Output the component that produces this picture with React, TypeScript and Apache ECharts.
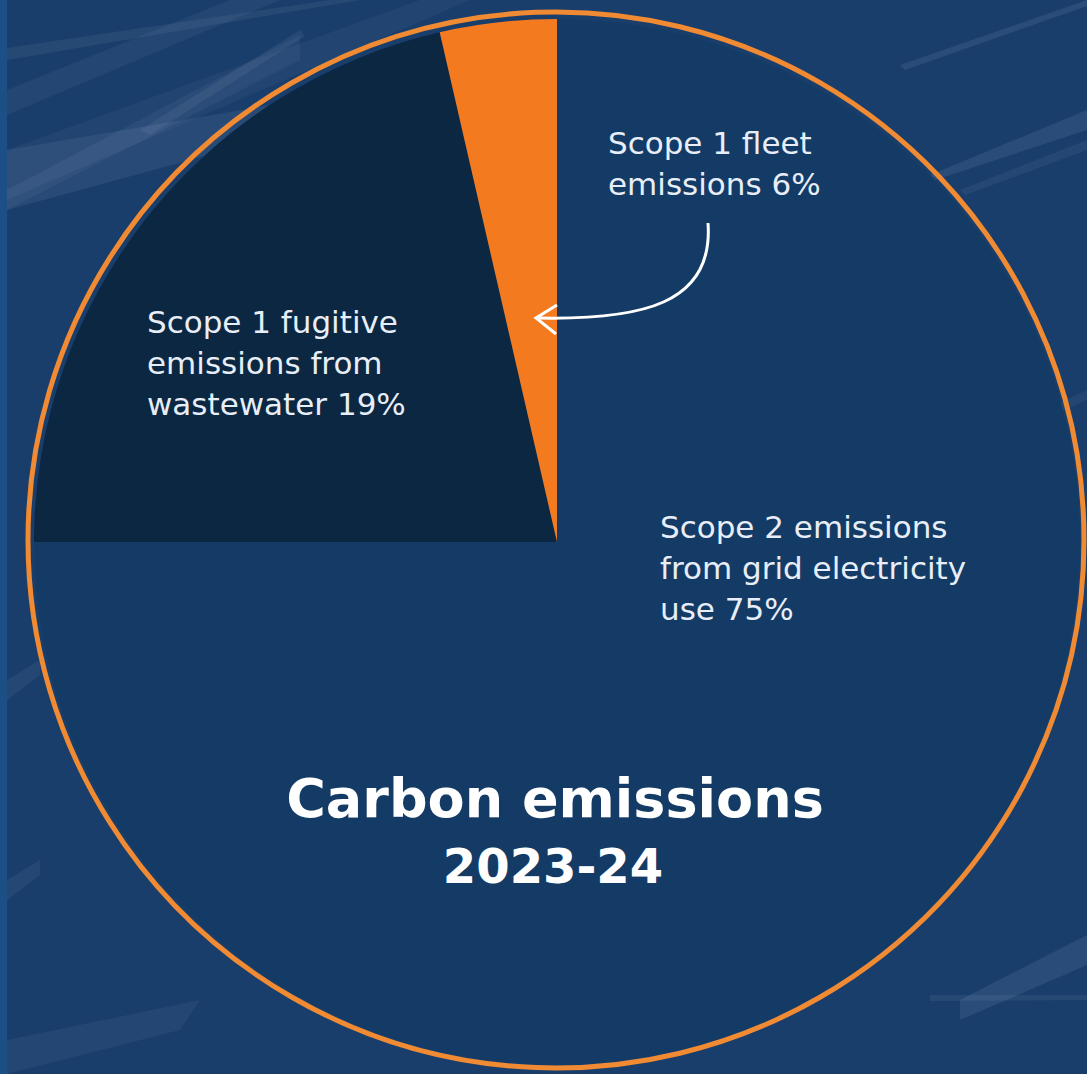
import React, { useEffect, useRef } from "react";
import * as echarts from "echarts";

const categories = [
  "Scope 2 emissions from grid electricity use",
  "Scope 1 fugitive emissions from wastewater",
  "Scope 1 fleet emissions",
];
const sectorShares = [75, 21.4, 3.6];
const sliceColors = ["#143b66", "#0b2741", "#f47a20"];

// Label texts as printed on the chart
const labelTexts = [
  "Scope 2 emissions\nfrom grid electricity\nuse 75%",
  "Scope 1 fugitive\nemissions from\nwastewater 19%",
  "Scope 1 fleet\nemissions 6%",
];
const titleText = "Carbon emissions";
const subtitleText = "2023-24";

const streak = (points: number[][], opacity: number) => ({
  type: "polygon",
  silent: true,
  z: -9,
  shape: { points },
  style: { fill: `rgba(190,205,235,${opacity})` },
});

export default function App() {
  const ref = useRef<HTMLDivElement>(null);
  useEffect(() => {
    document.body.style.margin = "0";
    const chart = echarts.init(ref.current!, undefined, { renderer: "svg" });
    const labelStyle = {
      fill: "#e8eef7",
      fontFamily: "DejaVu Sans",
      fontSize: 31,
      lineHeight: 41,
    };
    chart.setOption({
      animation: false,
      backgroundColor: "#1a3e6b",
      graphic: [
        {
          type: "rect",
          silent: true,
          z: -10,
          shape: { x: 0, y: 0, width: 7, height: 1074 },
          style: { fill: "#1d4f87" },
        },
        // background streaks (decoration)
        streak([[7, 60], [7, 48], [330, 0], [360, 0]], 0.08),
        streak([[7, 115], [7, 90], [230, 0], [280, 0]], 0.06),
        streak([[7, 200], [7, 150], [420, 0], [470, 0]], 0.05),
        streak([[7, 210], [7, 190], [300, 35], [300, 60]], 0.06),
        streak([[7, 210], [7, 150], [300, 100], [300, 130]], 0.09),
        streak([[140, 130], [300, 30], [305, 36], [150, 135]], 0.08),
        streak([[900, 65], [1087, 0], [1087, 6], [905, 70]], 0.1),
        streak([[930, 175], [1087, 110], [1087, 130], [935, 180]], 0.1),
        streak([[960, 190], [1087, 140], [1087, 150], [965, 195]], 0.07),
        streak([[980, 440], [1087, 390], [1087, 400], [985, 445]], 0.06),
        streak([[960, 1000], [1087, 935], [1087, 965], [960, 1020]], 0.1),
        streak([[930, 995], [1087, 995], [1087, 1000], [930, 1001]], 0.08),
        streak([[7, 1074], [7, 1040], [200, 1000], [180, 1030]], 0.06),
        streak([[7, 700], [7, 680], [40, 660], [40, 675]], 0.07),
        streak([[7, 900], [7, 880], [40, 860], [40, 875]], 0.07),
        // outline ring
        {
          type: "circle",
          silent: true,
          z: 10,
          shape: { cx: 556, cy: 540, r: 528 },
          style: { fill: "none", stroke: "#f08a33", lineWidth: 5 },
        },
        // curved arrow
        {
          type: "bezierCurve",
          silent: true,
          z: 20,
          shape: { x1: 708, y1: 223, cpx1: 714, cpy1: 305, cpx2: 640, cpy2: 320, x2: 538, y2: 318 },
          style: { stroke: "#ffffff", lineWidth: 3, fill: "none" },
        },
        {
          type: "polyline",
          silent: true,
          z: 20,
          shape: { points: [[557, 305], [536, 318], [556, 334]] },
          style: { stroke: "#ffffff", lineWidth: 3, fill: "none", lineJoin: "miter" },
        },
        // labels
        {
          type: "text",
          z: 20,
          x: 660,
          y: 506,
          style: { ...labelStyle, text: labelTexts[0], textAlign: "left", textVerticalAlign: "top" },
        },
        {
          type: "text",
          z: 20,
          x: 147,
          y: 301,
          style: { ...labelStyle, text: labelTexts[1], textAlign: "left", textVerticalAlign: "top" },
        },
        {
          type: "text",
          z: 20,
          x: 608,
          y: 122,
          style: { ...labelStyle, text: labelTexts[2], textAlign: "left", textVerticalAlign: "top" },
        },
        {
          type: "text",
          z: 20,
          x: 555,
          y: 798,
          style: {
            text: titleText,
            fill: "#ffffff",
            fontFamily: "DejaVu Sans",
            fontWeight: "bold",
            fontSize: 54,
            textAlign: "center",
            textVerticalAlign: "middle",
          },
        },
        {
          type: "text",
          z: 20,
          x: 553,
          y: 866,
          style: {
            text: subtitleText,
            fill: "#ffffff",
            fontFamily: "DejaVu Sans",
            fontWeight: "bold",
            fontSize: 48,
            textAlign: "center",
            textVerticalAlign: "middle",
          },
        },
      ],
      series: [
        {
          type: "pie",
          center: [557, 542],
          radius: [0, 523],
          startAngle: 90,
          clockwise: true,
          silent: true,
          label: { show: false },
          labelLine: { show: false },
          itemStyle: { borderWidth: 0 },
          data: categories.map((name, i) => ({
            name,
            value: sectorShares[i],
            itemStyle: { color: sliceColors[i] },
          })),
        },
      ],
    });
    return () => chart.dispose();
  }, []);
  return <div ref={ref} style={{ width: 1087, height: 1074 }} />;
}
